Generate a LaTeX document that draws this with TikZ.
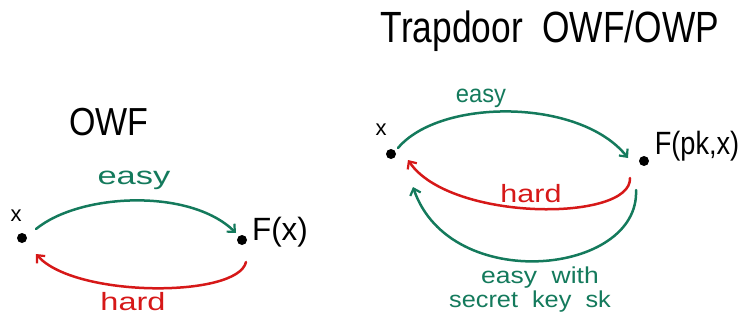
\documentclass[tikz,border=0pt]{standalone}
\usepackage{fontspec}
\setmainfont{Liberation Sans}
\usetikzlibrary{arrows.meta}
\definecolor{hgreen}{RGB}{20,122,92}
\definecolor{hred}{RGB}{214,24,24}
\begin{document}
\begin{tikzpicture}[x=1pt,y=-1pt,
  pen/.style={line width=2.5pt,line cap=round},
  arr/.style={pen,-{Straight Barb[length=6pt,width=11pt,line width=2.2pt]}},
  dot/.style={circle,fill=black,inner sep=0pt,minimum size=10pt},
  lbl/.style={inner sep=0pt},
]
\useasboundingbox (0,0) rectangle (739,324);
% left: OWF
\node[lbl] (t1) at (109,122) {\scalebox{1.0}[1.15]{\fontsize{34}{34}\selectfont OWF}};
\node[dot] (lx) at (22,238) {};
\node[lbl] (lxl) at (16,216) {\fontsize{22}{22}\selectfont x};
\node[dot] (lf) at (242,240) {};
\node[lbl] (lfl) at (280,232) {\scalebox{1.12}[1.15]{\fontsize{28}{28}\selectfont F(x)}};
\draw[arr,hgreen] (36,229) .. controls (80,193) and (190,188) .. (236,233);
\node[lbl,hgreen] (le) at (134,180) {\scalebox{1.38}[1.0]{\fontsize{25}{25}\selectfont easy}};
\draw[arr,hred] (246,262) .. controls (238,298) and (75,298) .. (36,254);
\node[lbl,hred] (lh) at (133,302) {\scalebox{1.3}[1.0]{\fontsize{25}{25}\selectfont hard}};
% right: Trapdoor
\node[lbl] (t2) at (550,31) {\scalebox{0.93}[1.15]{\fontsize{38}{38}\selectfont Trapdoor~~OWF/OWP}};
\node[dot] (rx) at (391,154) {};
\node[lbl] (rxl) at (381,130) {\fontsize{22}{22}\selectfont x};
\node[dot] (rf) at (644,161) {};
\node[lbl] (rfl) at (697,146) {\scalebox{0.97}[1.15]{\fontsize{28}{28}\selectfont F(pk,x)}};
\draw[arr,hgreen] (398,148) .. controls (440,98) and (580,98) .. (628,158);
\node[lbl,hgreen] (re) at (481,98) {\scalebox{0.95}[1.0]{\fontsize{25}{25}\selectfont easy}};
\draw[arr,hred] (630,178) .. controls (632,222) and (450,222) .. (408,160);
\node[lbl,hred] (rh) at (531,194) {\scalebox{1.22}[1.0]{\fontsize{25}{25}\selectfont hard}};
\draw[arr,hgreen] (636,190) .. controls (640,275) and (450,295) .. (413,187);
\node[lbl,hgreen] (rs1) at (540,278) {\scalebox{1.15}[1.0]{\fontsize{23}{23}\selectfont easy~~with}};
\node[lbl,hgreen] (rs2) at (530,302) {\scalebox{1.1}[1.0]{\fontsize{23}{23}\selectfont secret~~key~~sk}};
\end{tikzpicture}
\end{document}
